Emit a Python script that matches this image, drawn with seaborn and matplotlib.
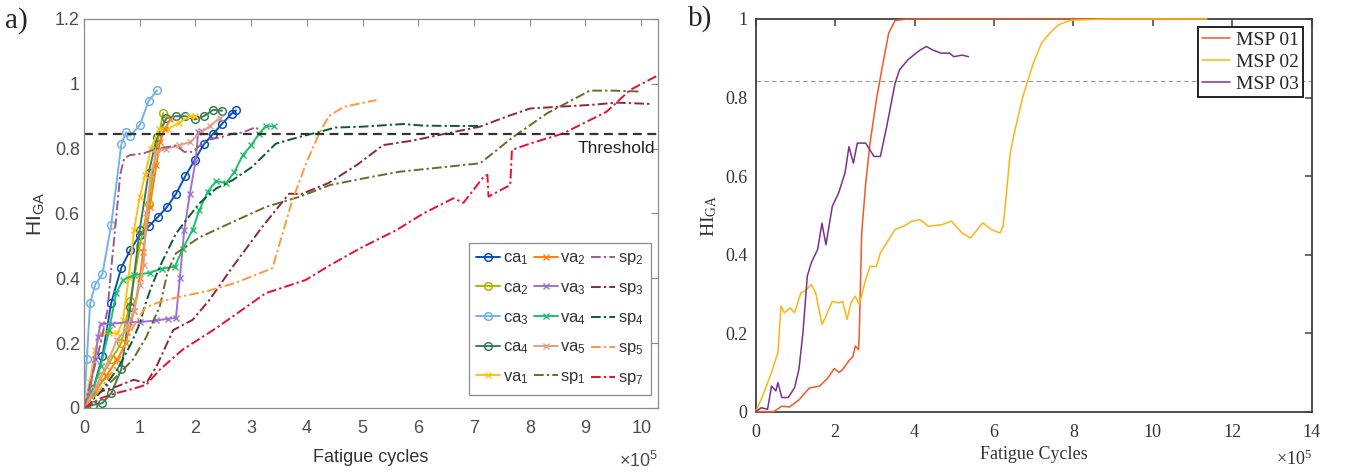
import matplotlib
matplotlib.use("Agg")
import matplotlib.pyplot as plt
import seaborn as sns
from matplotlib.ticker import FormatStrFormatter, MultipleLocator

# ---------------------------------------------------------------
# a) HI_GA vs fatigue cycles (x in units of 1e5 cycles)
# ---------------------------------------------------------------
ca1_x = [0, 0.17, 0.33, 0.49, 0.67, 0.83, 1.0, 1.17, 1.33, 1.49, 1.65, 1.82, 1.99, 2.15, 2.32, 2.48, 2.65, 2.73]
ca1_y = [0, 0.06, 0.16, 0.325, 0.433, 0.487, 0.533, 0.562, 0.59, 0.62, 0.66, 0.716, 0.766, 0.813, 0.846, 0.877, 0.908, 0.918]
ca2_x = [0, 0.17, 0.33, 0.49, 0.67, 0.83, 1.0, 1.16, 1.3, 1.42]
ca2_y = [0, 0.05, 0.1, 0.15, 0.2, 0.33, 0.5, 0.63, 0.8, 0.91]
ca3_x = [0, 0.05, 0.11, 0.2, 0.33, 0.49, 0.67, 0.75, 0.83, 1.0, 1.16, 1.31]
ca3_y = [0, 0.15, 0.323, 0.38, 0.413, 0.566, 0.813, 0.85, 0.84, 0.872, 0.947, 0.98]
ca4_x = [0, 0.17, 0.33, 0.49, 0.67, 0.83, 1.0, 1.16, 1.31, 1.48, 1.65, 1.82, 1.99, 2.15, 2.32, 2.48]
ca4_y = [0, 0.01, 0.015, 0.046, 0.12, 0.31, 0.55, 0.725, 0.836, 0.894, 0.9, 0.9, 0.89, 0.9, 0.92, 0.917]

va1_x = [0, 0.1, 0.2, 0.3, 0.45, 0.6, 0.7, 0.8, 0.9, 1.0, 1.1, 1.2, 1.35, 1.5, 1.7, 1.9, 2.0]
va1_y = [0, 0.08, 0.18, 0.23, 0.23, 0.23, 0.27, 0.4, 0.55, 0.65, 0.72, 0.8, 0.86, 0.86, 0.88, 0.9, 0.9]
va2_x = [0, 0.2, 0.4, 0.6, 0.75, 0.9, 1.0, 1.06, 1.18, 1.3, 1.36, 1.45, 1.55]
va2_y = [0, 0.05, 0.1, 0.15, 0.2, 0.3, 0.4, 0.48, 0.62, 0.75, 0.82, 0.86, 0.89]
va3_x = [0, 0.1, 0.2, 0.25, 0.3, 0.5, 0.8, 1.0, 1.3, 1.5, 1.65, 1.72, 1.8, 1.9, 2.0, 2.05, 2.1]
va3_y = [0, 0.05, 0.15, 0.22, 0.26, 0.26, 0.265, 0.265, 0.27, 0.275, 0.278, 0.4, 0.55, 0.66, 0.76, 0.85, 0.855]
va4_x = [0, 0.15, 0.3, 0.45, 0.58, 0.7, 0.9, 1.18, 1.4, 1.63, 1.77, 1.95, 2.07, 2.22, 2.37, 2.55, 2.7, 2.85, 3.0, 3.14, 3.26, 3.41]
va4_y = [0, 0.05, 0.13, 0.24, 0.356, 0.395, 0.41, 0.417, 0.43, 0.436, 0.49, 0.55, 0.61, 0.667, 0.70, 0.694, 0.728, 0.78, 0.81, 0.846, 0.869, 0.869]
va5_x = [0, 0.2, 0.4, 0.59, 0.75, 0.9, 1.0, 1.07, 1.12, 1.2, 1.3, 1.48, 1.7, 1.9, 2.1, 2.26, 2.44]
va5_y = [0, 0.06, 0.13, 0.21, 0.24, 0.3, 0.38, 0.44, 0.6, 0.72, 0.79, 0.8, 0.81, 0.82, 0.85, 0.87, 0.895]

sp1_x = [0, 0.3, 0.6, 0.88, 1.12, 1.36, 1.5, 1.65, 2.07, 2.67, 3.26, 3.86, 4.42, 5.19, 5.67, 6.51, 7.11, 7.71, 8.31, 9.08, 9.5, 10.0]
sp1_y = [0, 0.05, 0.1, 0.15, 0.22, 0.313, 0.42, 0.477, 0.526, 0.574, 0.62, 0.651, 0.688, 0.714, 0.729, 0.744, 0.755, 0.837, 0.909, 0.979, 0.979, 0.976]
sp2_x = [0, 0.15, 0.3, 0.42, 0.5, 0.58, 0.65, 0.72, 0.82, 1.06, 1.3, 1.5, 1.65, 1.8, 1.95, 2.19, 2.45, 2.67, 2.85, 3.02, 3.08, 3.14]
sp2_y = [0, 0.1, 0.2, 0.3, 0.45, 0.59, 0.72, 0.77, 0.78, 0.785, 0.80, 0.805, 0.81, 0.79, 0.79, 0.826, 0.835, 0.846, 0.85, 0.862, 0.867, 0.857]
sp3_x = [0, 0.29, 0.6, 0.89, 1.12, 1.3, 1.6, 1.95, 2.25, 2.67, 3.2, 3.68, 3.9, 4.39, 4.9, 5.37, 5.9, 6.51, 7.11, 7.6, 8.01, 8.6, 9.1, 9.56, 10.16]
sp3_y = [0, 0.05, 0.067, 0.087, 0.077, 0.128, 0.24, 0.272, 0.333, 0.436, 0.559, 0.661, 0.66, 0.694, 0.75, 0.811, 0.825, 0.847, 0.868, 0.9, 0.924, 0.93, 0.935, 0.942, 0.938]
sp4_x = [0, 0.3, 0.6, 0.85, 1.0, 1.1, 1.21, 1.36, 1.65, 1.83, 2.07, 2.37, 2.67, 3.02, 3.44, 3.86, 4.21, 4.51, 5.01, 5.73, 6.09, 6.6, 7.11]
sp4_y = [0, 0.05, 0.12, 0.2, 0.26, 0.32, 0.374, 0.436, 0.538, 0.579, 0.631, 0.677, 0.703, 0.744, 0.815, 0.836, 0.851, 0.865, 0.868, 0.876, 0.871, 0.87, 0.87]
sp5_x = [0, 0.29, 0.58, 0.88, 1.1, 1.4, 1.72, 2.2, 2.7, 3.16, 3.38, 3.74, 4.0, 4.21, 4.39, 4.66, 5.25]
sp5_y = [0, 0.056, 0.13, 0.25, 0.31, 0.33, 0.343, 0.36, 0.385, 0.416, 0.431, 0.641, 0.76, 0.843, 0.9, 0.929, 0.95]
sp7_x = [0, 0.3, 0.58, 0.9, 1.12, 1.36, 1.77, 2.37, 3.26, 3.98, 4.42, 4.96, 5.61, 6.09, 6.63, 6.81, 7.17, 7.24, 7.26, 7.65, 7.68, 8.01, 8.6, 9.38, 9.8, 10.31]
sp7_y = [0, 0.03, 0.046, 0.06, 0.072, 0.118, 0.18, 0.246, 0.354, 0.395, 0.441, 0.493, 0.549, 0.6, 0.647, 0.633, 0.713, 0.719, 0.652, 0.688, 0.796, 0.816, 0.847, 0.914, 0.981, 1.027]

threshold_a = 0.846

# ---------------------------------------------------------------
# b) MSP specimens
# ---------------------------------------------------------------
msp01_x = [0, 0.45, 0.66, 0.85, 1.09, 1.35, 1.5, 1.61, 1.82, 1.98, 2.1, 2.19, 2.35, 2.45, 2.51, 2.59, 2.61, 2.67, 2.77, 2.88,
           3.04, 3.19, 3.35, 3.51, 3.83, 11.36]
msp01_y = [0, 0.0, 0.014, 0.012, 0.03, 0.06, 0.063, 0.065, 0.086, 0.11, 0.1, 0.107, 0.13, 0.14, 0.167, 0.158, 0.2, 0.455, 0.58,
           0.684, 0.794, 0.879, 0.964, 0.996, 1.0, 1.0]
msp02_x = [0, 0.14, 0.4, 0.56, 0.64, 0.72, 0.87, 0.98, 1.14, 1.24, 1.4, 1.51, 1.67, 1.77, 1.93, 2.09, 2.19, 2.3, 2.4, 2.51, 2.61,
           2.77, 2.88, 3.04, 3.14, 3.3, 3.51, 3.72, 3.93, 4.14, 4.35, 4.67, 4.93, 5.2, 5.41, 5.72, 5.93, 6.15, 6.23, 6.3, 6.41,
           6.51, 6.73, 6.99, 7.2, 7.41, 7.62, 7.94, 8.89, 11.36]
msp02_y = [0, 0.031, 0.1, 0.15, 0.269, 0.252, 0.264, 0.252, 0.303, 0.307, 0.324, 0.303, 0.222, 0.243, 0.281, 0.277, 0.281, 0.235,
           0.277, 0.294, 0.273, 0.336, 0.37, 0.37, 0.404, 0.43, 0.464, 0.472, 0.485, 0.489, 0.472, 0.476, 0.485, 0.455, 0.442,
           0.481, 0.464, 0.455, 0.472, 0.54, 0.658, 0.709, 0.803, 0.887, 0.939, 0.964, 0.985, 0.997, 1.0, 1.0]
msp03_x = [0, 0.14, 0.3, 0.4, 0.51, 0.56, 0.66, 0.82, 0.98, 1.09, 1.19, 1.3, 1.4, 1.56, 1.67, 1.77, 1.93, 2.09, 2.25, 2.35, 2.46,
           2.56, 2.77, 2.98, 3.14, 3.3, 3.51, 3.62, 3.83, 4.14, 4.3, 4.46, 4.67, 4.88, 4.99, 5.2, 5.36]
msp03_y = [0, 0.01, 0.006, 0.065, 0.053, 0.074, 0.036, 0.036, 0.061, 0.108, 0.2, 0.345, 0.379, 0.413, 0.48, 0.425, 0.523, 0.557,
           0.608, 0.675, 0.633, 0.684, 0.684, 0.65, 0.65, 0.726, 0.836, 0.87, 0.896, 0.921, 0.93, 0.921, 0.913, 0.913, 0.904,
           0.908, 0.904]

threshold_b = 0.841

# ---------------------------------------------------------------
# styles
# ---------------------------------------------------------------
dashdot = (0, (5, 1.6, 1.2, 1.6))
series_a = [
    ("ca$_1$", ca1_x, ca1_y, "#0a4fbf", "o", "-"),
    ("ca$_2$", ca2_x, ca2_y, "#b5b300", "o", "-"),
    ("ca$_3$", ca3_x, ca3_y, "#73b2ea", "o", "-"),
    ("ca$_4$", ca4_x, ca4_y, "#3b7d58", "o", "-"),
    ("va$_1$", va1_x, va1_y, "#ffc20e", "x", "-"),
    ("va$_2$", va2_x, va2_y, "#ff7f0e", "x", "-"),
    ("va$_3$", va3_x, va3_y, "#a070d6", "x", "-"),
    ("va$_4$", va4_x, va4_y, "#1fbf6a", "x", "-"),
    ("va$_5$", va5_x, va5_y, "#e0a283", "x", "-"),
    ("sp$_1$", sp1_x, sp1_y, "#6e6a2c", None, dashdot),
    ("sp$_2$", sp2_x, sp2_y, "#a05a8c", None, dashdot),
    ("sp$_3$", sp3_x, sp3_y, "#8b2a3c", None, dashdot),
    ("sp$_4$", sp4_x, sp4_y, "#0b5c30", None, dashdot),
    ("sp$_5$", sp5_x, sp5_y, "#ff9a3c", None, dashdot),
    ("sp$_7$", sp7_x, sp7_y, "#e8102e", None, dashdot),
]
series_b = [
    ("MSP 01", msp01_x, msp01_y, "#ef5a28"),
    ("MSP 02", msp02_x, msp02_y, "#fdb515"),
    ("MSP 03", msp03_x, msp03_y, "#7e2f8e"),
]

sns.set_theme(style="white")
plt.rcParams["mathtext.default"] = "regular"
sans = ["Liberation Sans", "DejaVu Sans"]
serif = ["Liberation Serif", "DejaVu Serif"]

fig = plt.figure(figsize=(13.46, 4.75), dpi=100)
ax1 = fig.add_axes([0.0624, 0.1411, 0.4264, 0.8189])
ax2 = fig.add_axes([0.5614, 0.1333, 0.4131, 0.8267])

# ---------------- panel a ----------------
for label, x, y, color, marker, ls in series_a:
    kw = dict(color=color, lw=1.4, ls=ls, label=label, sort=False, estimator=None, ax=ax1)
    if marker == "o":
        kw.update(marker="o", ms=5.5, mfc="none", mec=color, mew=1.1)
    elif marker == "x":
        kw.update(marker="x", ms=4, mec=color, mew=1.0)
    sns.lineplot(x=x, y=y, **kw)

ax1.axhline(threshold_a, color="#333333", ls=(0, (4, 2.5)), lw=1.6)
ax1.text(10.25, 0.80, "Threshold", ha="right", va="center", fontsize=12.5,
         family=sans, color="#222222")

ax1.set_xlim(0, 10.3)
ax1.set_ylim(0, 1.2)
ax1.xaxis.set_major_locator(MultipleLocator(1))
ax1.yaxis.set_major_locator(MultipleLocator(0.2))
ax1.yaxis.set_major_formatter(FormatStrFormatter("%g"))
ax1.tick_params(direction="in", top=True, right=True, length=5, width=0.8,
                color="#8c8c8c", labelcolor="#4d4d4d", labelsize=13)
ax1.tick_params(axis="x", pad=9)
ax1.tick_params(axis="y", pad=3)
for lab in ax1.get_xticklabels() + ax1.get_yticklabels():
    lab.set_family(sans)
for sp in ax1.spines.values():
    sp.set_color("#8c8c8c")
    sp.set_linewidth(0.9)
ax1.set_xlabel("Fatigue cycles", fontsize=13, family=sans, color="#333333")
ax1.set_ylabel("HI$_{GA}$", fontsize=15, family=sans, color="#333333")
ax1.xaxis.set_label_coords(0.5, -0.106)
ax1.yaxis.set_label_coords(-0.064, 0.5)
ax1.text(1.0, -0.135, "×10$^5$", transform=ax1.transAxes, ha="right", va="center",
         fontsize=13, family=sans, color="#4d4d4d")

handles, labels = ax1.get_legend_handles_labels()
leg = ax1.legend(handles, labels, ncol=3, loc="lower right", bbox_to_anchor=(0.988, 0.0334),
                 borderaxespad=0, prop={"family": sans, "size": 12}, numpoints=1, handlelength=1.45,
                 handletextpad=0.15, columnspacing=0.3, labelspacing=0.78, borderpad=0.45,
                 frameon=True, fancybox=False, framealpha=1, edgecolor="#8c8c8c")
leg.get_frame().set_linewidth(0.9)
for t in leg.get_texts():
    t.set_color("#333333")

# ---------------- panel b ----------------
for label, x, y, color in series_b:
    sns.lineplot(x=x, y=y, color=color, lw=1.1, label=label, sort=False, estimator=None,
                 ax=ax2, zorder=3, clip_on=False)

ax2.axhline(threshold_b, color="#999999", ls=(0, (4, 3)), lw=0.8)
ax2.set_xlim(0, 14)
ax2.set_ylim(0, 1)
ax2.xaxis.set_major_locator(MultipleLocator(2))
ax2.yaxis.set_major_locator(MultipleLocator(0.2))
ax2.yaxis.set_major_formatter(FormatStrFormatter("%g"))
ax2.tick_params(direction="in", top=True, right=True, length=5, width=1.1,
                color="#404040", labelcolor="#333333", labelsize=13)
ax2.tick_params(axis="x", pad=9)
ax2.tick_params(axis="y", pad=6)
for lab in ax2.get_xticklabels() + ax2.get_yticklabels():
    lab.set_family(serif)
for sp in ax2.spines.values():
    sp.set_color("#404040")
    sp.set_linewidth(1.3)
ax2.set_xlabel("Fatigue Cycles", fontsize=13, family=serif, color="#333333")
ax2.set_ylabel("HI$_{GA}$", fontsize=14, family=serif, color="#333333")
ax2.xaxis.set_label_coords(0.5, -0.087)
ax2.yaxis.set_label_coords(-0.066, 0.5)
ax2.text(1.0, -0.12, "×10$^5$", transform=ax2.transAxes, ha="right", va="center",
         fontsize=13, family=serif, color="#333333")

leg2 = ax2.legend(loc="upper right", bbox_to_anchor=(0.984, 0.98), borderaxespad=0,
                  prop={"family": serif, "size": 14}, handlelength=1.4, handletextpad=0.3,
                  labelspacing=0.22, borderpad=0.22, frameon=True, fancybox=False, framealpha=1,
                  edgecolor="#222222")
leg2.get_frame().set_linewidth(1.4)
leg2.set_zorder(5)

# panel letters
fig.text(0.004, 0.985, "a)", fontsize=21, family=serif, va="top", ha="left")
fig.text(0.511, 0.99, "b)", fontsize=21, family=serif, va="top", ha="left")

fig.savefig("out.png", dpi=100)
